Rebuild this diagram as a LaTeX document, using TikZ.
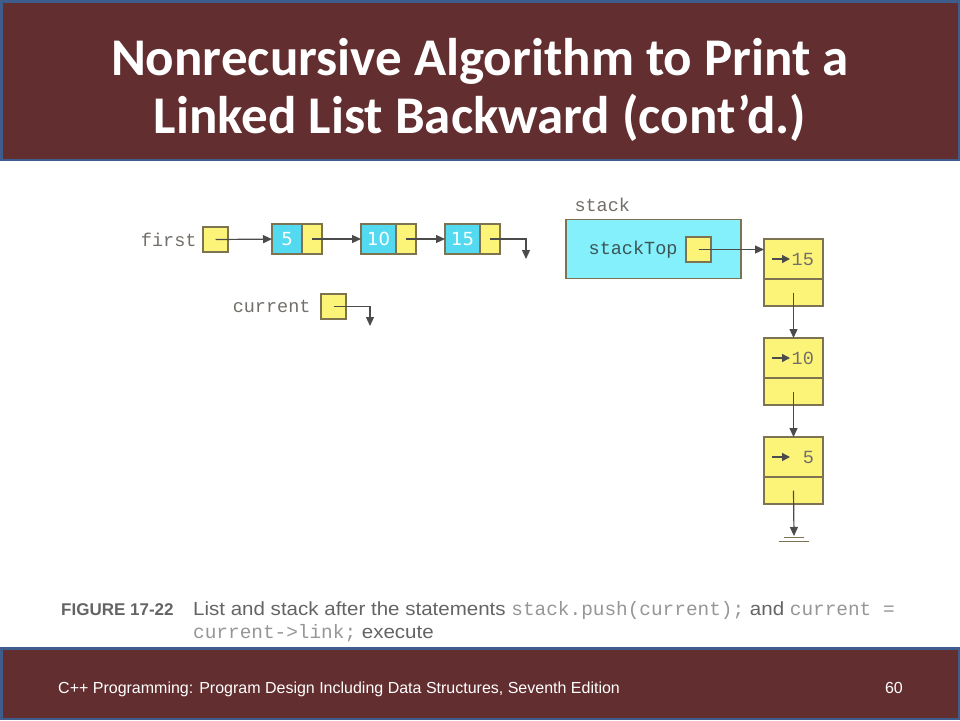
\documentclass[tikz,border=0pt]{standalone}
\usepackage{fontspec}
\setmainfont{Liberation Sans}
\newfontfamily\titlefont{Carlito}
\newfontfamily\codefont{Liberation Mono}
\newfontfamily\numfont{DejaVu Sans}
\newfontfamily\capfont[FakeStretch=1.08]{Liberation Sans}
\usetikzlibrary{positioning, arrows.meta}
\definecolor{maroon}{RGB}{99, 46, 48}
\definecolor{frame}{RGB}{62, 92, 140}
\definecolor{nodeyel}{RGB}{252, 244, 120}
\definecolor{nodecyan}{RGB}{84, 218, 240}
\definecolor{stackcyan}{RGB}{132, 240, 252}
\definecolor{edge}{RGB}{125, 115, 80}
\definecolor{arrowgray}{RGB}{75, 75, 75}
\definecolor{labelgray}{RGB}{115, 110, 105}
\definecolor{captext}{RGB}{100, 100, 100}
\definecolor{capcode}{RGB}{150, 150, 150}

\begin{document}
\begin{tikzpicture}[x=1pt, y=-1pt,
  ptr/.style={draw=edge, fill=nodeyel, minimum size=25pt, inner sep=0pt, outer sep=0pt, line width=1.3pt},
  info/.style={draw=edge, fill=nodecyan, minimum height=30pt, inner sep=0pt, outer sep=0pt, line width=1.3pt,
    text=white, font=\numfont\fontsize{18}{18}\selectfont},
  lnk/.style={draw=edge, fill=nodeyel, minimum width=20pt, minimum height=30pt, inner sep=0pt, outer sep=0pt, line width=1.3pt},
  cell/.style={draw=edge, fill=nodeyel, minimum width=59pt, inner sep=0pt, outer sep=0pt, line width=1.3pt},
  arr/.style={draw=arrowgray, line width=1.2pt, -{Triangle[length=9pt, width=8pt]}},
  tiny/.style={draw=arrowgray, line width=1.4pt, -{Triangle[length=8pt, width=8pt]}},
  code/.style={font=\codefont\fontsize{18.5}{18.5}\selectfont},
  heading/.style={anchor=base, inner sep=0pt, text=white, font=\titlefont\bfseries\fontsize{53}{58}\selectfont}]
  \useasboundingbox (0, 0) rectangle (960, 720);

  % title and footer bars
  \fill[maroon] (0, 0) rectangle (960, 161);
  \draw[frame, line width=2.5pt] (1.25, 1.25) rectangle (958.75, 159.75);
  \node[heading] (title1) at (480, 75) {Nonrecursive Algorithm to Print a};
  \node[heading] (title2) at (480, 133) {Linked List Backward (cont’d.)};
  \fill[maroon] (0, 647) rectangle (960, 720);
  \draw[frame, line width=2.5pt] (1.25, 648.25) rectangle (958.75, 718.75);
  \node[anchor=base west, inner sep=0pt, text=white, font=\fontsize{16}{16}\selectfont] (book) at (58, 693)
    {C++ Programming: Program Design Including Data Structures, Seventh Edition};
  \node[anchor=base east, inner sep=0pt, text=white, font=\fontsize{16}{16}\selectfont] (page) at (903, 693) {60};

  % the list
  \node[ptr] (first) at (215.5, 239.5) {};
  \node[code, text=labelgray, left=3pt of first] (firstlbl) {first};
  \foreach \v/\x/\w in {5/287/30, 10/378.5/35, 15/462.5/35} {
    \node[info, minimum width=\w] (i\v) at (\x, 239) {\v};
    \node[lnk, right=0pt of i\v] (l\v) {};
  }
  \coordinate (nil1) at (526, 259);
  \draw[arr] (first.center) -- (i5);
  \draw[arr] (l5.center) -- (i10);
  \draw[arr] (l10.center) -- (i15);
  \draw[arr] (l15.center) -| (nil1);

  \node[ptr] (current) at (333.5, 306.5) {};
  \node[code, text=labelgray, left=7pt of current] (currentlbl) {current};
  \coordinate (nil2) at (370, 326);
  \draw[arr] (current.center) -| (nil2);

  % the stack
  \node[draw=edge, fill=stackcyan, line width=1.3pt, minimum width=175pt, minimum height=59pt,
    inner sep=0pt, outer sep=0pt, anchor=north west] (stack) at (566, 219.5) {};
  \node[code, text=labelgray, anchor=base west] (stacklbl) at (571, 211) {stack};
  \node[ptr] (stackTop) at (698.5, 249.5) {};
  \node[code, text=arrowgray!80!teal, left=5pt of stackTop] (toplbl) {stackTop};
  \foreach \v/\y/\t in {15/239/15, 10/338/10, 5/437/\phantom{1}5} {
    \node[cell, minimum height=40pt, anchor=north west] (t\v) at (764, \y) {};
    \node[cell, minimum height=27pt, below=0pt of t\v] (b\v) {};
    \draw[tiny] ([xshift=8pt]t\v.west) -- ++(18, 0)
      node[code, text=labelgray, right=0pt, inner sep=1pt] {\t};
  }
  \coordinate (ground) at (794, 536);
  \draw[arr] (stackTop.center) -- (stackTop.center -| t15.west);
  \draw[arr] (b15.center) -- (t10);
  \draw[arr] (b10.center) -- (t5);
  \draw[arr] (b5.center) -- (ground);
  \draw[edge, line width=1.1pt] (784, 537.5) -- (804, 537.5) (779, 541.5) -- (809, 541.5);

  % caption
  \node[anchor=base west, inner sep=0pt, text=captext, font=\fontsize{17}{17}\selectfont\bfseries] (fig) at (61, 615)
    {FIGURE 17-22};
  \node[anchor=base west, inner sep=0pt, text=captext, font=\capfont\fontsize{19}{19}\selectfont] (cap1) at (193, 615)
    {List and stack after the statements {\codefont\fontsize{19.4}{19}\selectfont\color{capcode}stack.push(current);} and
     {\codefont\fontsize{19.4}{19}\selectfont\color{capcode}current =}};
  \node[anchor=base west, inner sep=0pt, text=captext, font=\capfont\fontsize{19}{19}\selectfont] (cap2) at (193, 638)
    {{\codefont\fontsize{19.4}{19}\selectfont\color{capcode}current->link;} execute};
\end{tikzpicture}
\end{document}
